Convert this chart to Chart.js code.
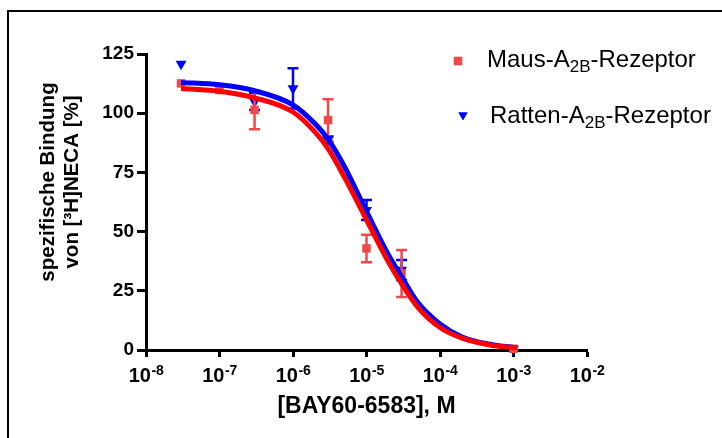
<!DOCTYPE html>
<html>
<head>
<meta charset="utf-8">
<title>BAY60-6583 Verdrängung</title>
<script src="https://cdn.jsdelivr.net/npm/chart.js"></script>
<style>
  body { margin: 0; background: #fff; }
</style>
</head>
<body>
<canvas id="bindung" width="722" height="438"></canvas>
<script>
// Messpunkte: Mittelwert und Fehler, Konzentration in M
var mausKonz = [3e-8, 1e-7, 3e-7, 3e-6, 1e-5, 3e-5, 1e-3];
var mausWerte = [112.6, 109.8, 101.4, 97.1, 42.9, 32.3, 0.5];
var mausFehler = [0, 0, 8.2, 8.8, 5.8, 9.9, 0];

var rattenKonz = [3e-8, 3e-7, 1e-6, 3e-6, 1e-5, 3e-5, 1e-3];
var rattenWerte = [120.8, 104.9, 110.5, 88.7, 59.1, 33.8, 0.5];
var rattenFehler = [0, 3.6, 8.5, 1.5, 4.2, 4.2, 0];

// angepasste Kurven
var kurveKonz = [3e-8, 1e-7, 3e-7, 1e-6, 2e-6, 3e-6, 5e-6, 1e-5, 2e-5, 3e-5, 5e-5, 1e-4, 2e-4, 5e-4, 1e-3, 1.12e-3];
var mausKurve = [110.4, 109.3, 106.5, 100.5, 92, 85, 73, 55, 37, 28, 18, 9.5, 5, 2, 1, 0.9];
var rattenKurve = [113, 112, 109.5, 103.5, 95.5, 89, 77.5, 58.5, 40, 31, 20, 11, 5.5, 2.3, 1.1, 1];

var xTicks = [1e-8, 1e-7, 1e-6, 1e-5, 1e-4, 1e-3, 1e-2];
var yTicks = [0, 25, 50, 75, 100, 125];

var schrift = '"Liberation Sans", Arial, sans-serif';
var rotMarker = '#f04848';
var rotLinie = '#ff0000';
var blau = '#0000ff';

function punkte(xs, ys) {
    return xs.map(function (x, i) { return { x: x, y: ys[i] }; });
}

// Fehlerbalken unter den jeweiligen Markern
var fehlerbalken = {
    id: 'fehlerbalken',
    beforeDatasetDraw: function (chart, args) {
        var ds = chart.data.datasets[args.index];
        if (!ds.fehler) return;
        var sx = chart.scales.x, sy = chart.scales.y, ctx = chart.ctx;
        ctx.save();
        ctx.strokeStyle = ds.backgroundColor;
        ctx.lineWidth = 2.5;
        ds.data.forEach(function (p, i) {
            var e = ds.fehler[i];
            if (!e) return;
            var px = sx.getPixelForValue(p.x);
            var oben = sy.getPixelForValue(p.y + e);
            var unten = sy.getPixelForValue(p.y - e);
            ctx.beginPath();
            ctx.moveTo(px, oben); ctx.lineTo(px, unten);
            ctx.moveTo(px - 5.5, oben); ctx.lineTo(px + 5.5, oben);
            ctx.moveTo(px - 5.5, unten); ctx.lineTo(px + 5.5, unten);
            ctx.stroke();
        });
        ctx.restore();
    }
};

// Rahmen, Achsentitel, Hochzahlen an der x-Achse und Legende
var beschriftung = {
    id: 'beschriftung',
    beforeDraw: function (chart) {
        var ctx = chart.ctx;
        ctx.save();
        ctx.strokeStyle = '#000';
        ctx.lineWidth = 2;
        ctx.strokeRect(8, 11, 900, 900);
        ctx.restore();
    },
    afterDraw: function (chart) {
        var ctx = chart.ctx, sx = chart.scales.x;
        ctx.save();
        ctx.fillStyle = '#000';

        // x-Achse: 10 hoch n
        xTicks.forEach(function (v) {
            var px = sx.getPixelForValue(v);
            var hoch = String(Math.round(Math.log10(v)));
            ctx.font = 'bold 20px ' + schrift;
            var wb = ctx.measureText('10').width;
            ctx.font = 'bold 14px ' + schrift;
            var wh = ctx.measureText(hoch).width;
            var x0 = px - (wb + wh) / 2;
            ctx.textAlign = 'left';
            ctx.textBaseline = 'alphabetic';
            ctx.font = 'bold 20px ' + schrift;
            ctx.fillText('10', x0, 382);
            ctx.font = 'bold 14px ' + schrift;
            ctx.fillText(hoch, x0 + wb + 0.5, 375);
        });

        ctx.textAlign = 'center';
        ctx.font = 'bold 23px ' + schrift;
        ctx.fillText('[BAY60-6583], M', (chart.chartArea.left + chart.chartArea.right) / 2, 413);

        // y-Achsentitel, zweizeilig
        ctx.save();
        ctx.translate(0, 182);
        ctx.rotate(-Math.PI / 2);
        ctx.textBaseline = 'middle';
        ctx.font = 'bold 20.5px ' + schrift;
        ctx.fillText('spezifische Bindung', 0, 48);
        ctx.fillText('von [³H]NECA [%]', 0, 72);
        ctx.restore();

        // Legende
        var eintraege = [
            { name: 'Maus-A', y: 67, x: 487, farbe: rotMarker, stil: 'rect', r: 5.9, rot: 0, mx: 458, my: 61 },
            { name: 'Ratten-A', y: 123, x: 490, farbe: blau, stil: 'triangle', r: 5.2, rot: 180, mx: 463, my: 115 }
        ];
        eintraege.forEach(function (e) {
            ctx.fillStyle = e.farbe;
            Chart.helpers.drawPoint(ctx, { pointStyle: e.stil, radius: e.r, rotation: e.rot, borderWidth: 0 }, e.mx, e.my);
            ctx.fill();
            ctx.fillStyle = '#000';
            ctx.textAlign = 'left';
            ctx.textBaseline = 'alphabetic';
            ctx.font = '24px ' + schrift;
            var x = e.x;
            ctx.fillText(e.name, x, e.y);
            x += ctx.measureText(e.name).width;
            ctx.font = '17px ' + schrift;
            ctx.fillText('2B', x, e.y + 5);
            x += ctx.measureText('2B').width;
            ctx.font = '24px ' + schrift;
            ctx.fillText('-Rezeptor', x, e.y);
        });
        ctx.restore();
    }
};

new Chart(document.getElementById('bindung').getContext('2d'), {
    type: 'scatter',
    data: {
        datasets: [{
            label: 'Maus-A2B-Rezeptor Kurve',
            type: 'line',
            data: punkte(kurveKonz, mausKurve),
            borderColor: rotLinie,
            borderWidth: 5,
            pointRadius: 0,
            fill: false,
            cubicInterpolationMode: 'monotone'
        }, {
            label: 'Ratten-A2B-Rezeptor Kurve',
            type: 'line',
            data: punkte(kurveKonz, rattenKurve),
            borderColor: blau,
            borderWidth: 5,
            pointRadius: 0,
            fill: false,
            cubicInterpolationMode: 'monotone'
        }, {
            label: 'Maus-A2B-Rezeptor',
            data: punkte(mausKonz, mausWerte),
            fehler: mausFehler,
            backgroundColor: rotMarker,
            borderWidth: 0,
            pointStyle: 'rect',
            pointRadius: 6,
            clip: false
        }, {
            label: 'Ratten-A2B-Rezeptor',
            data: punkte(rattenKonz, rattenWerte),
            fehler: rattenFehler,
            backgroundColor: blau,
            borderWidth: 0,
            pointStyle: 'triangle',
            pointRotation: 180,
            pointRadius: 6.3,
            clip: false
        }]
    },
    options: {
        responsive: false,
        animation: false,
        layout: { padding: { left: 0, right: 135, top: 54, bottom: 0 } },
        plugins: {
            legend: { display: false },
            tooltip: { enabled: false }
        },
        scales: {
            x: {
                type: 'logarithmic',
                min: 1e-8,
                max: 1e-2,
                afterBuildTicks: function (s) { s.ticks = xTicks.map(function (v) { return { value: v }; }); },
                afterFit: function (s) { s.height = 88; },
                border: { display: true, color: '#000', width: 3 },
                grid: { drawOnChartArea: false, drawTicks: true, tickLength: 7, tickWidth: 3, tickColor: '#000' },
                ticks: { display: false }
            },
            y: {
                min: 0,
                max: 125,
                afterBuildTicks: function (s) { s.ticks = yTicks.map(function (v) { return { value: v }; }); },
                afterFit: function (s) { s.width = 146; },
                border: { display: true, color: '#000', width: 3 },
                grid: { drawOnChartArea: false, drawTicks: true, tickLength: 9, tickWidth: 3, tickColor: '#000' },
                ticks: { color: '#000', padding: 3, font: { family: schrift, size: 19, weight: 'bold' } }
            }
        }
    },
    plugins: [fehlerbalken, beschriftung]
});
</script>
</body>
</html>
